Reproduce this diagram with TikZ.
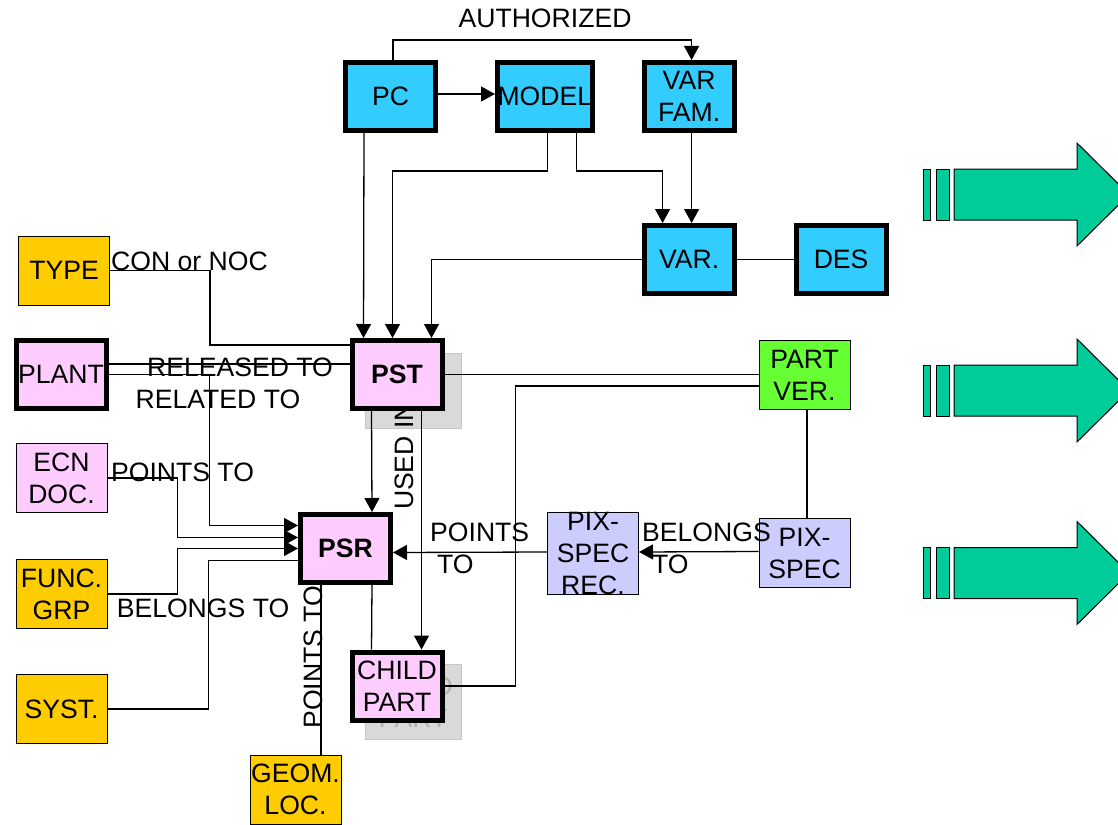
\documentclass[tikz,border=0pt]{standalone}
\usepackage{fontspec}
\setmainfont{Liberation Sans}
\usetikzlibrary{arrows.meta,positioning}

\definecolor{skyfill}{HTML}{33CCFF}
\definecolor{pinkfill}{HTML}{FFCCFF}
\definecolor{goldfill}{HTML}{FFCC00}
\definecolor{limefill}{HTML}{66FF33}
\definecolor{lilacfill}{HTML}{CCCCFF}
\definecolor{tealfill}{HTML}{00CC99}
\newcommand\boxfont{\fontsize{26.6}{32}\selectfont}

\begin{document}
\begin{tikzpicture}[
  x=1pt, y=-1pt,
  font=\boxfont,
  heavy/.style={draw, line width=5pt, minimum width=90pt, minimum height=68pt,
                inner sep=0pt, align=center},
  light/.style={draw, line width=1pt, minimum width=91pt, minimum height=69pt,
                inner sep=0pt, align=center},
  ghost/.style={draw=gray!45, fill=gray!30, line width=1pt, minimum width=96pt,
                minimum height=75pt, inner sep=0pt, align=center, text=gray!60},
  arr/.style={-{Triangle[length=14pt,width=15pt]}, line width=1.3pt},
  link/.style={line width=1.3pt},
  lbl/.style={inner sep=0pt, align=left},
  bigarrow/.style={draw, line width=1pt, fill=tealfill}
]
\useasboundingbox (0,0) rectangle (1118,824);

% shadows behind PST and CHILD PART
\node[ghost, font=\boxfont\bfseries] (pstghost) at (413,391) {PST};
\node[ghost] (childghost) at (413,702) {CHILD\\PART};
\node[lbl, rotate=90] (usedin) at (404,456) {USED IN};

% top row
\node[heavy, fill=skyfill] (pc) at (390.5,96.5) {PC};
\node[heavy, fill=skyfill, right=57pt of pc] (model) {MODEL};
\node[heavy, fill=skyfill, right=47pt of model] (varfam) {VAR\\FAM.};
\node[heavy, fill=skyfill, below=90pt of varfam] (var) {VAR.};
\node[heavy, fill=skyfill, right=57pt of var] (des) {DES};

% left column
\node[light, fill=goldfill] (type) at (64,270.5) {TYPE};
\node[heavy, fill=pinkfill] (plant) at (61,374.5) {PLANT};
\node[light, fill=pinkfill] (ecn) at (61.5,478) {ECN\\DOC.};
\node[light, fill=goldfill] (func) at (61.5,594) {FUNC.\\GRP};
\node[light, fill=goldfill] (syst) at (61.5,709) {SYST.};
\node[light, fill=goldfill] (geom) at (295.5,789.5) {GEOM.\\LOC.};

% centre
\node[heavy, fill=pinkfill, font=\boxfont\bfseries] (pst) at (397,374.5) {PST};
\node[heavy, fill=pinkfill, font=\boxfont\bfseries] (psr) at (345.5,548.5) {PSR};
\node[heavy, fill=pinkfill] (child) at (397,686) {CHILD\\PART};

% right side
\node[light, fill=limefill] (partver) at (804.5,375) {PART\\VER.};
\node[light, fill=lilacfill, below=108pt of partver] (pixspec) {PIX-\\SPEC};
\node[light, fill=lilacfill] (pixrec) at (593,553.5) {PIX-\\SPEC\\REC.};

% labels
\node[lbl] (authlbl) at (545,18) {AUTHORIZED};
\node[lbl] (typelbl) at (189.5,261) {CON or NOC};
\node[lbl] (rellbl) at (240,367) {RELEASED TO};
\node[lbl] (ratlbl) at (218,399) {RELATED TO};
\node[lbl] (ecnlbl) at (182.5,472) {POINTS TO};
\node[lbl] (funclbl) at (203,608.5) {BELONGS TO};
\node[lbl, rotate=90] (geomlbl) at (313,657) {POINTS TO};
\node[lbl, anchor=west] (reclbl) at (430,548) {POINTS\\\hspace*{7pt}TO};
\node[lbl, anchor=west] (pixlbl) at (642,548) {BELONGS\\\hspace*{10pt}TO};

% connectors
\draw[arr] ([xshift=2.5pt]pc.north) -- ++(0,-20) -| ([xshift=2.5pt]varfam.north);
\draw[arr] ([yshift=2.5pt]pc.east) -- ([yshift=2.5pt]model.west);
\draw[arr] ([xshift=-26.5pt]pc.south) -- ([xshift=-33.5pt]pst.north);
\draw[arr] ([xshift=2.5pt]model.south) -- ++(0,38) -| ([xshift=-4.5pt]pst.north);
\draw[arr] ([xshift=31.5pt]model.south) -- ++(0,38) -| ([xshift=-26.5pt]var.north);
\draw[arr] ([xshift=2.5pt]varfam.south) -- ([xshift=2.5pt]var.north);
\draw[arr] (var.west) -| ([xshift=34.5pt]pst.north);
\draw[link] (var.east) -- (des.west);

\draw[link] (type.east) -- ++(100,0) |- ([yshift=29.5pt]pst.west);
\draw[link] ([yshift=10.5pt]plant.east) -- ([yshift=10.5pt]pst.west);
\draw[arr] (plant.east) -- ++(101,0) |- ([yshift=23pt]psr.west);
\draw[arr] (ecn.east) -- ++(70,0) |- ([yshift=11pt]psr.west);
\draw[arr] (func.east) -- ++(70,0) |- (psr.west);
\draw[link] (syst.east) -- ++(101,0) |- ([yshift=-12pt]psr.west);
\draw[link] ([xshift=25.5pt]geom.north) -- ([xshift=-24.5pt]psr.south);

\draw[arr] ([xshift=-25.5pt]pst.south) -- ([xshift=26.5pt]psr.north);
\draw[arr] ([xshift=24.5pt]pst.south) -- ([xshift=24.5pt]child.north);
\draw[link] ([xshift=26.5pt]psr.south) -- ([xshift=-25.5pt]child.north);

\draw[link] (pst.east) -- (pst.east -| partver.west);
\draw[link] ([yshift=-11pt]partver.west) -- ++(-243,0) |- (child.east);
\draw[link] ([xshift=2.5pt]partver.south) -- ([xshift=2.5pt]pixspec.north);
\draw[arr] ([yshift=1.5pt]pixspec.west) -- ([yshift=1.5pt]pixrec.east);
\draw[arr] ([yshift=1.5pt]pixrec.west) -- ([yshift=-4pt]psr.east);

% big arrows on the right
\foreach \y in {194.5,390.5,573}{
  \draw[bigarrow] (923,\y-25.5) rectangle (930,\y+25.5);
  \draw[bigarrow] (936,\y-25.5) rectangle (949,\y+25.5);
  \draw[bigarrow] (954,\y-25.5) -- (1077,\y-25.5) -- (1077,\y-51.5) -- (1129,\y)
    -- (1077,\y+51.5) -- (1077,\y+25.5) -- (954,\y+25.5) -- cycle;
}
\end{tikzpicture}
\end{document}
